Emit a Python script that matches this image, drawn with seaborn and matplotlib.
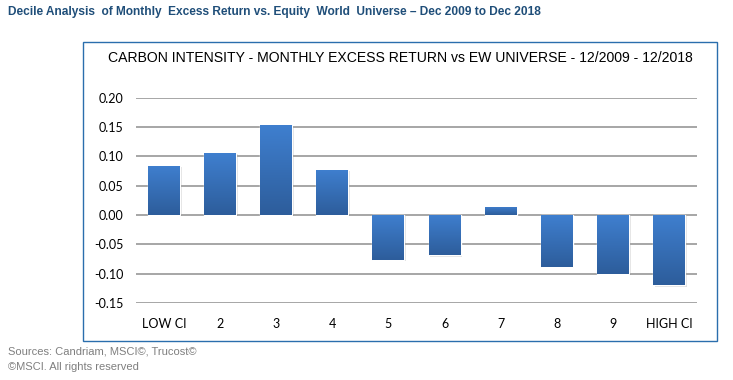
import matplotlib
matplotlib.use("Agg")
import matplotlib.pyplot as plt
import matplotlib.patches as mpatches
import numpy as np
import pandas as pd
import seaborn as sns
from matplotlib.colors import LinearSegmentedColormap

categories = ["LOW CI", "2", "3", "4", "5", "6", "7", "8", "9", "HIGH CI"]
excess_return = [0.084, 0.105, 0.153, 0.077, -0.077, -0.069, 0.014, -0.088, -0.100, -0.120]
yticks = [-0.15, -0.10, -0.05, 0.00, 0.05, 0.10, 0.15, 0.20]

sns.set_theme(style="white")
plt.rcParams['font.family'] = ['Liberation Sans', 'DejaVu Sans']

W, H = 733, 380
fig = plt.figure(figsize=(W / 100, H / 100), dpi=100)
fig.patch.set_facecolor("white")

# outer chart frame
frame = mpatches.Rectangle((83 / W, 1 - 341 / H), (717 - 83) / W, (341 - 42) / H,
                           transform=fig.transFigure, fill=False,
                           edgecolor="#2a6ead", linewidth=1.0, zorder=0)
fig.patches.append(frame)

ax = fig.add_axes([136 / W, 1 - 303 / H, (697 - 136) / W, (303 - 97.5) / H])
df = pd.DataFrame({"decile": categories, "ret": excess_return})
sns.barplot(data=df, x="decile", y="ret", ax=ax, color="#3a78c4",
            width=0.57, saturation=1, zorder=3)

ax.set_ylim(-0.15, 0.20)
ax.set_xlim(-0.5, len(categories) - 0.5)
ax.set_yticks(yticks)
ax.set_yticklabels([f"{v:.2f}" for v in yticks])
for y in yticks:
    ax.axhline(y, color="#a6a6a6", linewidth=1.4, zorder=1)
for s in ax.spines.values():
    s.set_visible(False)
ax.set_xlabel("")
ax.set_ylabel("")
ax.tick_params(axis="both", length=0, labelsize=9, colors="#000000")
ax.tick_params(axis="y", pad=9)
ax.tick_params(axis="x", pad=11)
for lab in ax.get_xticklabels() + ax.get_yticklabels():
    lab.set_fontfamily(["Lato", "DejaVu Sans"])

# gradient fill on bars
cmap = LinearSegmentedColormap.from_list("g", ["#2d5d9b", "#3f7fcf"])
grad = np.linspace(0, 1, 128).reshape(-1, 1)
for p in ax.patches:
    x0, y0 = p.get_x(), p.get_y()
    w, h = p.get_width(), p.get_height()
    ylo, yhi = min(y0, y0 + h), max(y0, y0 + h)
    # shadow
    sh = mpatches.Rectangle((x0 + 0.03, ylo - 0.002), w, yhi - ylo,
                            facecolor="#000000", alpha=0.12, edgecolor="none", zorder=2)
    ax.add_patch(sh)
    im = ax.imshow(grad, extent=(x0, x0 + w, ylo, yhi), origin="lower",
                   aspect="auto", cmap=cmap, zorder=4)
    im.set_clip_path(p)
ax.set_xlim(-0.5, len(categories) - 0.5)
ax.set_ylim(-0.15, 0.20)

fig.text(8 / W, 1 - 12 / H,
         "Decile Analysis  of Monthly  Excess Return vs. Equity  World  Universe \u2013 Dec 2009 to Dec 2018",
         fontsize=8.55, fontweight="bold", color="#1f4e79", va="center", ha="left")
fig.text(400 / W, 1 - 58 / H,
         "CARBON INTENSITY - MONTHLY EXCESS RETURN vs EW UNIVERSE - 12/2009 - 12/2018",
         fontsize=10.1, color="#000000", va="center", ha="center",
         family=["Liberation Sans Narrow", "Liberation Sans", "DejaVu Sans"])
fig.text(8 / W, 1 - 352 / H, "Sources: Candriam, MSCI\u00a9, Trucost\u00a9",
         fontsize=8, color="#7f7f7f", va="center", ha="left")
fig.text(8 / W, 1 - 367 / H, "\u00a9MSCI. All rights reserved",
         fontsize=8, color="#7f7f7f", va="center", ha="left")

fig.savefig("out.png", dpi=100, facecolor="white")
